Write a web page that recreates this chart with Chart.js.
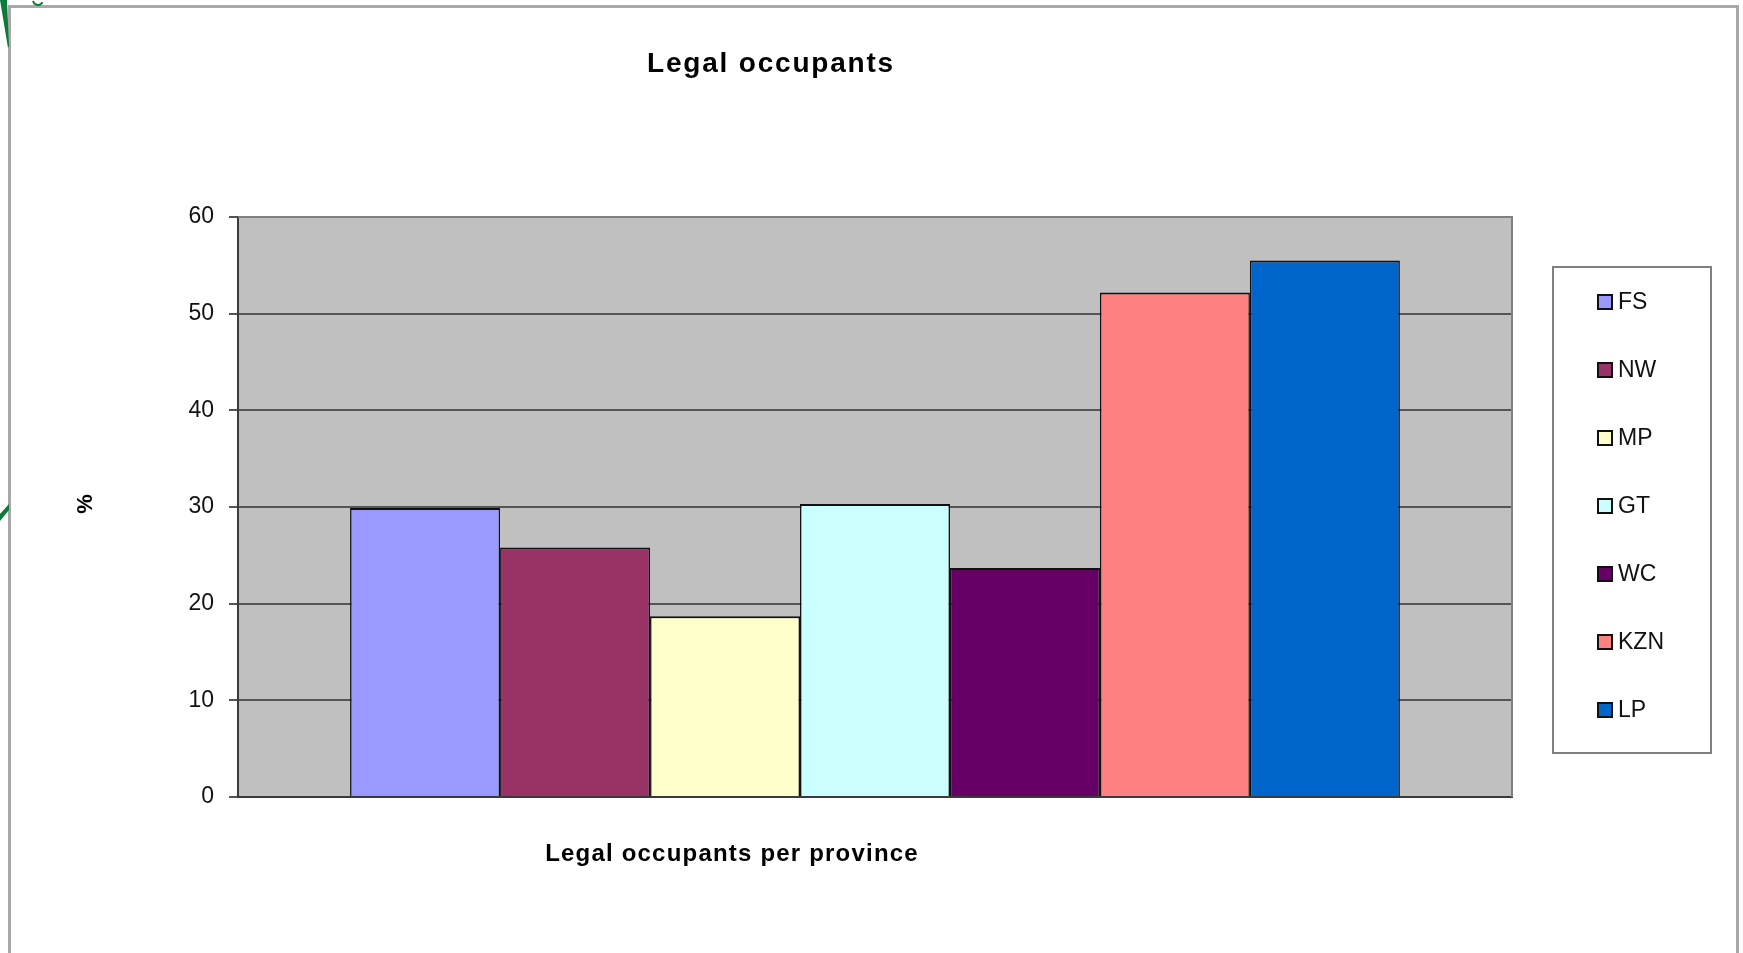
<!DOCTYPE html>
<html>
<head>
<meta charset="utf-8">
<title>Legal occupants</title>
<script src="https://cdn.jsdelivr.net/npm/chart.js@4/dist/chart.umd.min.js"></script>
<style>
  html, body { margin: 0; padding: 0; background: #fff; overflow: hidden; }
  canvas { display: block; }
</style>
</head>
<body>
<canvas id="myChart" width="1743" height="953"></canvas>
<script>
const provinces = ["FS", "NW", "MP", "GT", "WC", "KZN", "LP"];
const legalOccupants = [29.9, 25.8, 18.7, 30.3, 23.7, 52.2, 55.5];
const barColours = ["#9999FF", "#993366", "#FFFFCC", "#CCFFFF", "#660066", "#FF8080", "#0066CC"];
const categories = [""];
const chartTitle = "Legal occupants";
const xTitle = "Legal occupants per province";
const yTitle = "%";

const font = "'Liberation Sans', Arial, sans-serif";

// one dataset per province so every bar gets its own legend entry
const datasets = provinces.map((name, i) => ({
    label: name,
    data: [legalOccupants[i]],
    backgroundColor: barColours[i],
    borderColor: "#111",
    borderWidth: { top: 2, left: 1.5, right: 1.5, bottom: 0 },
    borderSkipped: false,
    barPercentage: 1,
    categoryPercentage: 0.824,
}));

// white page, grey frame, green swoosh bits and the grey plot area
const background = {
    id: "background",
    beforeDraw(chart) {
        const ctx = chart.ctx;
        const a = chart.chartArea;
        ctx.save();
        ctx.fillStyle = "#fff";
        ctx.fillRect(0, 0, chart.width, chart.height);

        ctx.strokeStyle = "#a8a8a8";
        ctx.lineWidth = 3;
        ctx.strokeRect(9.5, 6.5, 1728, 1000);

        ctx.fillStyle = "#0b7a3b";
        ctx.beginPath();
        ctx.moveTo(0, 0);
        ctx.lineTo(7, 0);
        ctx.lineTo(9, 46);
        ctx.lineTo(8, 48);
        ctx.closePath();
        ctx.fill();
        ctx.beginPath();
        ctx.moveTo(0, 514);
        ctx.lineTo(9, 504);
        ctx.lineTo(9, 510);
        ctx.lineTo(0, 521);
        ctx.closePath();
        ctx.fill();
        ctx.strokeStyle = "#0b7a3b";
        ctx.lineWidth = 2;
        ctx.beginPath();
        ctx.arc(38, 0, 5, 0.15 * Math.PI, 0.95 * Math.PI);
        ctx.stroke();

        ctx.fillStyle = "#c0c0c0";
        ctx.fillRect(a.left, a.top, a.right - a.left, a.bottom - a.top);
        ctx.restore();
    },
};

// plot border, titles and the boxed legend
const decorations = {
    id: "decorations",
    afterDraw(chart) {
        const ctx = chart.ctx;
        const a = chart.chartArea;
        ctx.save();

        ctx.strokeStyle = "#808080";
        ctx.lineWidth = 2;
        ctx.beginPath();
        ctx.moveTo(a.left, a.top);
        ctx.lineTo(a.right, a.top);
        ctx.lineTo(a.right, a.bottom);
        ctx.stroke();

        ctx.fillStyle = "#000";
        ctx.textAlign = "center";
        ctx.textBaseline = "alphabetic";
        ctx.font = "bold 28px " + font;
        ctx.letterSpacing = "1.8px";
        ctx.fillText(chartTitle, 771, 72);

        ctx.font = "bold 24px " + font;
        ctx.letterSpacing = "1.2px";
        ctx.fillText(xTitle, 732, 861);

        ctx.letterSpacing = "0px";
        ctx.save();
        ctx.translate(86, 504);
        ctx.rotate(-Math.PI / 2);
        ctx.textBaseline = "middle";
        ctx.font = "bold 22px " + font;
        ctx.fillText(yTitle, 0, 0);
        ctx.restore();

        // legend
        const box = { left: 1553, top: 267, width: 158, height: 486 };
        ctx.strokeStyle = "#808080";
        ctx.lineWidth = 2;
        ctx.strokeRect(box.left, box.top, box.width, box.height);
        ctx.textAlign = "left";
        ctx.textBaseline = "middle";
        ctx.font = "23px " + font;
        chart.data.datasets.forEach((ds, i) => {
            const y = box.top + 35 + i * 68;
            ctx.fillStyle = ds.backgroundColor;
            ctx.fillRect(1598, y - 7, 14, 14);
            ctx.strokeStyle = "#111";
            ctx.lineWidth = 2;
            ctx.strokeRect(1598, y - 7, 14, 14);
            ctx.fillStyle = "#111";
            ctx.fillText(ds.label, 1618, y + 1);
        });
        ctx.restore();
    },
};

var ctx = document.getElementById("myChart");

new Chart(ctx, {
    type: "bar",
    data: {
        labels: categories,
        datasets: datasets,
    },
    options: {
        responsive: false,
        animation: false,
        layout: {
            padding: { left: 88, right: 231, top: 217, bottom: 156 },
        },
        plugins: {
            legend: { display: false },
            title: { display: false },
            tooltip: { enabled: false },
        },
        scales: {
            x: {
                grid: { display: false },
                ticks: { display: false },
                border: { display: true, color: "#3a3a3a", width: 2 },
                afterFit(scale) {
                    scale.height = 0;
                },
            },
            y: {
                min: 0,
                max: 60,
                ticks: {
                    stepSize: 10,
                    padding: 15,
                    color: "#111",
                    font: { family: font, size: 23 },
                },
                grid: {
                    color: "#555",
                    lineWidth: 2,
                    tickLength: 9,
                },
                border: { display: true, color: "#3a3a3a", width: 2 },
                afterFit(scale) {
                    scale.width = 150;
                },
            },
        },
    },
    plugins: [background, decorations],
});
</script>
</body>
</html>
